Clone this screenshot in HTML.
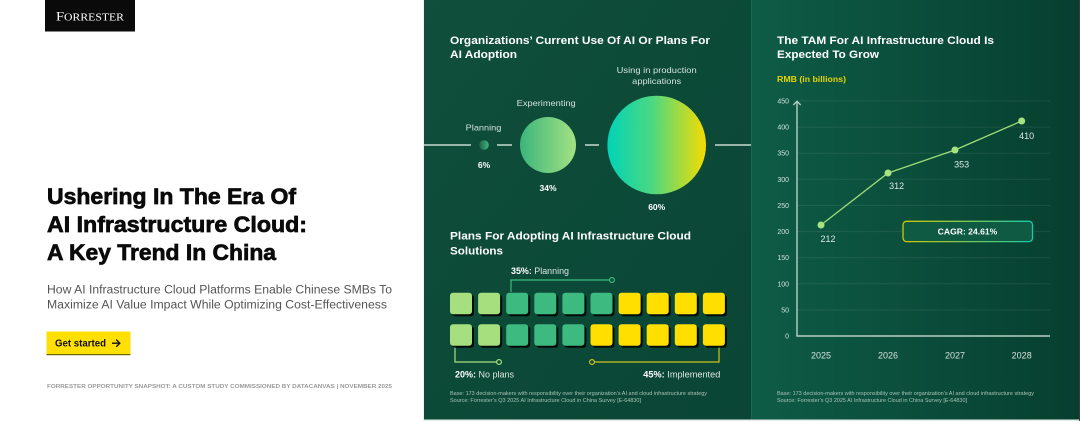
<!DOCTYPE html>
<html><head><meta charset="utf-8"><style>
html,body{margin:0;padding:0;background:#fff;}
svg{display:block;}
text{font-family:"Liberation Sans",sans-serif;}
</style></head><body>
<svg width="1080" height="421" viewBox="0 0 1080 421" xmlns="http://www.w3.org/2000/svg">
<defs>
<linearGradient id="bgM" x1="0" y1="0" x2="1" y2="1"><stop offset="0" stop-color="#0f4f3b"/><stop offset="1" stop-color="#0a4535"/></linearGradient>
<linearGradient id="bgR" x1="0" y1="0" x2="1" y2="0"><stop offset="0" stop-color="#0e5c46"/><stop offset="1" stop-color="#073f2f"/></linearGradient>
<linearGradient id="c1" x1="0" y1="0" x2="1" y2="0"><stop offset="0" stop-color="#1c644a"/><stop offset="1" stop-color="#45b27e"/></linearGradient>
<linearGradient id="c2" x1="0" y1="0" x2="1" y2="0"><stop offset="0" stop-color="#3cb57c"/><stop offset="1" stop-color="#a4e283"/></linearGradient>
<linearGradient id="c3" x1="0" y1="0" x2="1" y2="0"><stop offset="0" stop-color="#00d3b6"/><stop offset="0.45" stop-color="#4bd882"/><stop offset="1" stop-color="#f6dc00"/></linearGradient>
<linearGradient id="cb" x1="0" y1="0" x2="1" y2="0"><stop offset="0" stop-color="#d0c800"/><stop offset="1" stop-color="#1ec7ad"/></linearGradient>
</defs>

<!-- Left panel -->
<rect x="0" y="0" width="424" height="421" fill="#ffffff"/>
<line x1="423.5" y1="0" x2="423.5" y2="421" stroke="#eeeeee" stroke-width="1"/>
<rect x="45" y="0" width="90" height="31.5" fill="#0a0a0a"/>
<text x="56" y="20.5" fill="#ffffff" style="font-family:'Liberation Serif',serif" font-size="13" textLength="68" lengthAdjust="spacingAndGlyphs">F<tspan font-size="10.5">ORRESTER</tspan></text>

<g font-weight="bold" fill="#0a0a0a" font-size="22" stroke="#0a0a0a" stroke-width="0.7">
<text x="47" y="204" textLength="249" lengthAdjust="spacingAndGlyphs">Ushering In The Era Of</text>
<text x="47" y="232" textLength="260" lengthAdjust="spacingAndGlyphs">AI Infrastructure Cloud:</text>
<text x="47" y="260" textLength="229" lengthAdjust="spacingAndGlyphs">A Key Trend In China</text>
</g>
<g fill="#555555" font-size="11.5">
<text x="47" y="293.5" textLength="345" lengthAdjust="spacingAndGlyphs">How AI Infrastructure Cloud Platforms Enable Chinese SMBs To</text>
<text x="47" y="308.5" textLength="340" lengthAdjust="spacingAndGlyphs">Maximize AI Value Impact While Optimizing Cost-Effectiveness</text>
</g>
<rect x="46.5" y="331.5" width="84" height="23" fill="#ffe000"/>
<rect x="46.5" y="354" width="84" height="1.2" fill="#6b6400"/>
<text x="55" y="346.5" font-size="10" font-weight="bold" fill="#111" textLength="51" lengthAdjust="spacingAndGlyphs">Get started</text>
<path d="M112 343.2 H119.5 M116.2 339.6 L119.8 343.2 L116.2 346.8" stroke="#111" stroke-width="1.4" fill="none"/>
<text x="47" y="387.8" font-size="5.6" font-weight="bold" fill="#9a9a9a" textLength="345" lengthAdjust="spacingAndGlyphs">FORRESTER OPPORTUNITY SNAPSHOT: A CUSTOM STUDY COMMISSIONED BY DATACANVAS | NOVEMBER 2025</text>

<!-- Middle panel -->
<rect x="424" y="0" width="327" height="419.5" fill="url(#bgM)"/>
<g font-weight="bold" fill="#ffffff" font-size="11">
<text x="450" y="44" textLength="260" lengthAdjust="spacingAndGlyphs">Organizations’ Current Use Of AI Or Plans For</text>
<text x="450" y="58" textLength="67" lengthAdjust="spacingAndGlyphs">AI Adoption</text>
</g>
<!-- bubbles -->
<g stroke="#c9d9d1" stroke-width="1.5">
<line x1="424" y1="145" x2="471" y2="145"/>
<line x1="497" y1="145" x2="512" y2="145"/>
<line x1="585" y1="145" x2="599" y2="145"/>
<line x1="715" y1="145" x2="751" y2="145"/>
</g>
<circle cx="484" cy="145" r="4.8" fill="url(#c1)"/>
<circle cx="548" cy="145" r="28" fill="url(#c2)"/>
<circle cx="656.7" cy="145" r="49.3" fill="url(#c3)"/>
<g fill="#d3e0da" font-size="8.5" text-anchor="middle">
<text x="483.5" y="130.3" textLength="35.6" lengthAdjust="spacingAndGlyphs">Planning</text>
<text x="546.2" y="106" textLength="59" lengthAdjust="spacingAndGlyphs">Experimenting</text>
<text x="656.7" y="73" textLength="80" lengthAdjust="spacingAndGlyphs">Using in production</text>
<text x="656.7" y="84" textLength="49" lengthAdjust="spacingAndGlyphs">applications</text>
</g>
<g fill="#ffffff" font-size="8.5" font-weight="bold" text-anchor="middle">
<text x="484" y="168">6%</text>
<text x="548" y="190.8">34%</text>
<text x="656.7" y="210">60%</text>
</g>

<g font-weight="bold" fill="#ffffff" font-size="11">
<text x="450" y="239.7" textLength="241" lengthAdjust="spacingAndGlyphs">Plans For Adopting AI Infrastructure Cloud</text>
<text x="450" y="254.7" textLength="53" lengthAdjust="spacingAndGlyphs">Solutions</text>
</g>

<!-- connector lines -->
<path d="M511 292 V280 H609.5" stroke="#3dba80" stroke-width="1.2" fill="none"/>
<circle cx="612" cy="280" r="2.4" fill="#0d4a38" stroke="#3dba80" stroke-width="1.2"/>
<path d="M455 346 V362 H496.5" stroke="#a6e07e" stroke-width="1.2" fill="none"/>
<circle cx="499" cy="362" r="2.4" fill="#0b4636" stroke="#a6e07e" stroke-width="1.2"/>
<path d="M594.5 362 H719 V346" stroke="#cbc41c" stroke-width="1.2" fill="none"/>
<circle cx="592" cy="362" r="2.4" fill="#0b4636" stroke="#cbc41c" stroke-width="1.2"/>

<!-- blocks -->
<g>
<g fill="#000" opacity="0.85">
<rect x="452" y="294.7" width="22" height="21.5" rx="3"/><rect x="480.1" y="294.7" width="22" height="21.5" rx="3"/><rect x="508.2" y="294.7" width="22" height="21.5" rx="3"/><rect x="536.3" y="294.7" width="22" height="21.5" rx="3"/><rect x="564.4" y="294.7" width="22" height="21.5" rx="3"/><rect x="592.5" y="294.7" width="22" height="21.5" rx="3"/><rect x="620.6" y="294.7" width="22" height="21.5" rx="3"/><rect x="648.7" y="294.7" width="22" height="21.5" rx="3"/><rect x="676.8" y="294.7" width="22" height="21.5" rx="3"/><rect x="704.9" y="294.7" width="22" height="21.5" rx="3"/>
<rect x="452" y="326.3" width="22" height="21.5" rx="3"/><rect x="480.1" y="326.3" width="22" height="21.5" rx="3"/><rect x="508.2" y="326.3" width="22" height="21.5" rx="3"/><rect x="536.3" y="326.3" width="22" height="21.5" rx="3"/><rect x="564.4" y="326.3" width="22" height="21.5" rx="3"/><rect x="592.5" y="326.3" width="22" height="21.5" rx="3"/><rect x="620.6" y="326.3" width="22" height="21.5" rx="3"/><rect x="648.7" y="326.3" width="22" height="21.5" rx="3"/><rect x="676.8" y="326.3" width="22" height="21.5" rx="3"/><rect x="704.9" y="326.3" width="22" height="21.5" rx="3"/>
</g>
<g fill="#a6e07e"><rect x="450" y="292.7" width="22" height="21.5" rx="3"/><rect x="478.1" y="292.7" width="22" height="21.5" rx="3"/><rect x="450" y="324.3" width="22" height="21.5" rx="3"/><rect x="478.1" y="324.3" width="22" height="21.5" rx="3"/></g>
<g fill="#3dba80"><rect x="506.2" y="292.7" width="22" height="21.5" rx="3"/><rect x="534.3" y="292.7" width="22" height="21.5" rx="3"/><rect x="562.4" y="292.7" width="22" height="21.5" rx="3"/><rect x="590.5" y="292.7" width="22" height="21.5" rx="3"/><rect x="506.2" y="324.3" width="22" height="21.5" rx="3"/><rect x="534.3" y="324.3" width="22" height="21.5" rx="3"/><rect x="562.4" y="324.3" width="22" height="21.5" rx="3"/></g>
<g fill="#ffdf00"><rect x="618.6" y="292.7" width="22" height="21.5" rx="3"/><rect x="646.7" y="292.7" width="22" height="21.5" rx="3"/><rect x="674.8" y="292.7" width="22" height="21.5" rx="3"/><rect x="702.9" y="292.7" width="22" height="21.5" rx="3"/><rect x="590.5" y="324.3" width="22" height="21.5" rx="3"/><rect x="618.6" y="324.3" width="22" height="21.5" rx="3"/><rect x="646.7" y="324.3" width="22" height="21.5" rx="3"/><rect x="674.8" y="324.3" width="22" height="21.5" rx="3"/><rect x="702.9" y="324.3" width="22" height="21.5" rx="3"/></g>
</g>

<g fill="#dfe8e3" font-size="9">
<text x="511" y="274" textLength="58" lengthAdjust="spacingAndGlyphs"><tspan font-weight="bold" fill="#fff">35%:</tspan> Planning</text>
<text x="455" y="377.5" textLength="59" lengthAdjust="spacingAndGlyphs"><tspan font-weight="bold" fill="#fff">20%:</tspan> No plans</text>
<text x="643.3" y="377.5" textLength="77" lengthAdjust="spacingAndGlyphs"><tspan font-weight="bold" fill="#fff">45%:</tspan> Implemented</text>
</g>
<g fill="#a9c2b6" font-size="5">
<text x="450" y="395.2" textLength="257" lengthAdjust="spacingAndGlyphs">Base: 173 decision-makers with responsibility over their organization’s AI and cloud infrastructure strategy</text>
<text x="450" y="401.8" textLength="191" lengthAdjust="spacingAndGlyphs">Source: Forrester’s Q3 2025 AI Infrastructure Cloud in China Survey [E-64830]</text>
</g>

<!-- Right panel -->
<rect x="751" y="0" width="328" height="419.5" fill="url(#bgR)"/>
<line x1="751.5" y1="0" x2="751.5" y2="419.5" stroke="#1a6a52" stroke-width="1"/>
<line x1="1079.5" y1="0" x2="1079.5" y2="421" stroke="#3a3a3a" stroke-width="1"/>
<rect x="424" y="419.5" width="655" height="1.5" fill="#e8ece9"/>

<g font-weight="bold" fill="#ffffff" font-size="11">
<text x="777" y="44" textLength="217" lengthAdjust="spacingAndGlyphs">The TAM For AI Infrastructure Cloud Is</text>
<text x="777" y="58" textLength="102" lengthAdjust="spacingAndGlyphs">Expected To Grow</text>
</g>
<text x="777" y="82" font-size="8" font-weight="bold" fill="#e6d400" textLength="69" lengthAdjust="spacingAndGlyphs">RMB (in billions)</text>

<!-- gridlines -->
<g stroke="#ffffff" stroke-opacity="0.08" stroke-width="1">
<line x1="797" y1="101" x2="1050" y2="101"/>
<line x1="797" y1="127.1" x2="1050" y2="127.1"/>
<line x1="797" y1="153.2" x2="1050" y2="153.2"/>
<line x1="797" y1="179.3" x2="1050" y2="179.3"/>
<line x1="797" y1="205.4" x2="1050" y2="205.4"/>
<line x1="797" y1="231.6" x2="1050" y2="231.6"/>
<line x1="797" y1="257.7" x2="1050" y2="257.7"/>
<line x1="797" y1="283.8" x2="1050" y2="283.8"/>
<line x1="797" y1="309.9" x2="1050" y2="309.9"/>
</g>
<g fill="#d2e1d9" font-size="7" text-anchor="end">
<text x="789" y="103.5">450</text>
<text x="789" y="129.6">400</text>
<text x="789" y="155.7">350</text>
<text x="789" y="181.8">300</text>
<text x="789" y="207.9">250</text>
<text x="789" y="234.1">200</text>
<text x="789" y="260.2">150</text>
<text x="789" y="286.3">100</text>
<text x="789" y="312.4">50</text>
<text x="789" y="338.5">0</text>
</g>
<line x1="797" y1="101.5" x2="797" y2="336" stroke="#b8cfc4" stroke-width="1.4"/>
<path d="M793.3 105 L797 101.3 L800.7 105" stroke="#b8cfc4" stroke-width="1.3" fill="none"/>
<line x1="796.3" y1="336" x2="1050" y2="336" stroke="#b8cfc4" stroke-width="1.4"/>

<!-- CAGR box -->
<rect x="903" y="221.3" width="129.5" height="20.3" rx="3.5" fill="#0e5a43" stroke="url(#cb)" stroke-width="1.3"/>
<text x="967.5" y="234.5" font-size="8.5" font-weight="bold" fill="#ffffff" text-anchor="middle" textLength="59.6" lengthAdjust="spacingAndGlyphs">CAGR: 24.61%</text>

<polyline points="821,225 888,173 955,150 1021.7,121" fill="none" stroke="#9ede78" stroke-width="1.3"/>
<g fill="#a4e37f">
<circle cx="821" cy="225" r="3.5"/><circle cx="888" cy="173" r="3.5"/><circle cx="955" cy="150" r="3.5"/><circle cx="1021.7" cy="121" r="3.5"/>
</g>
<g fill="#dbe7e1" font-size="9" text-anchor="middle">
<text x="828" y="242.2">212</text>
<text x="896.7" y="189">312</text>
<text x="961.7" y="167.3">353</text>
<text x="1026.7" y="139">410</text>
</g>
<g fill="#d4e1da" font-size="9" text-anchor="middle">
<text x="821" y="358.3">2025</text>
<text x="888" y="358.3">2026</text>
<text x="955" y="358.3">2027</text>
<text x="1021.7" y="358.3">2028</text>
</g>
<g fill="#a9c2b6" font-size="5">
<text x="777" y="395.2" textLength="257" lengthAdjust="spacingAndGlyphs">Base: 173 decision-makers with responsibility over their organization’s AI and cloud infrastructure strategy</text>
<text x="777" y="401.8" textLength="190" lengthAdjust="spacingAndGlyphs">Source: Forrester’s Q3 2025 AI Infrastructure Cloud in China Survey [E-64830]</text>
</g>
</svg>
</body></html>
